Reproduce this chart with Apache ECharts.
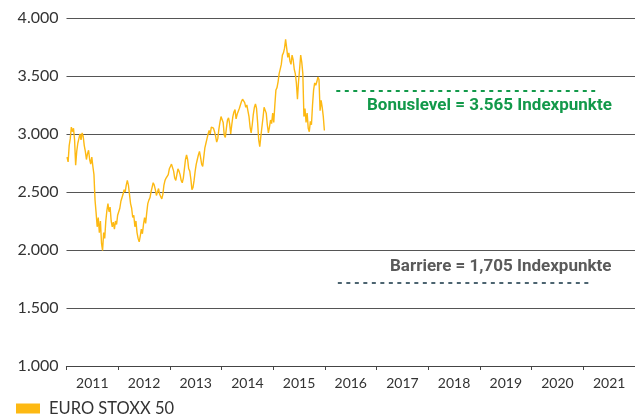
<!DOCTYPE html>
<html>
<head>
<meta charset="utf-8">
<script src="https://cdn.jsdelivr.net/npm/echarts@6/dist/echarts.min.js"></script>
<style>
  html, body { margin: 0; padding: 0; background: #fff; }
  #chart { width: 635px; height: 416px; }
</style>
</head>
<body>
<div id="chart"></div>
<script>
// tick labels on the x axis
const yearLabels = ['2011', '2012', '2013', '2014', '2015', '2016', '2017', '2018', '2019', '2020', '2021'];

// EURO STOXX 50, roughly weekly (4 readings per month)
const stoxx2011 = [
  2800, 2760, 2900, 2960, 3060, 3020, 3050, 2950, 2730, 2850, 2920, 2960,
  3000, 2950, 3010, 2980, 2900, 2850, 2780, 2830, 2860, 2780, 2740, 2800,
  2720, 2650, 2430, 2320, 2200, 2280, 2150, 2250, 2060, 1995, 2150, 2100,
  2250, 2340, 2400, 2330, 2370, 2250, 2200, 2240, 2180, 2250, 2220, 2300
];
const stoxx2012 = [
  2310, 2360, 2420, 2450, 2480, 2520, 2500, 2560, 2600, 2560, 2480, 2400,
  2360, 2280, 2300, 2200, 2250, 2150, 2100, 2070, 2120, 2180, 2140, 2220,
  2280, 2230, 2320, 2400, 2430, 2450, 2500, 2540, 2580, 2560, 2520, 2470,
  2500, 2530, 2480, 2460, 2440, 2480, 2560, 2600, 2620, 2610, 2650, 2700
];
const stoxx2013 = [
  2720, 2740, 2710, 2680, 2620, 2600, 2650, 2700, 2680, 2650, 2600, 2580,
  2620, 2700, 2780, 2820, 2780, 2700, 2680, 2610, 2520, 2540, 2600, 2680,
  2740, 2780, 2820, 2850, 2800, 2740, 2720, 2800, 2880, 2920, 2960, 3000,
  3030, 3000, 3060, 3070, 3050, 3020, 2980, 2930, 2960, 3040, 3100, 3150
];
const stoxx2014 = [
  3150, 3100, 2990, 2970, 3050, 3120, 3140, 3090, 3000, 3080, 3150, 3190,
  3210, 3130, 3170, 3180, 3220, 3250, 3280, 3300, 3310, 3270, 3230, 3250,
  3200, 3150, 3060, 3010, 3080, 3170, 3230, 3260, 3220, 3100, 2950, 2890,
  2980, 3060, 3140, 3230, 3220, 3180, 3080, 3010, 3060, 3120, 3090, 3180
];
const stoxx2015 = [
  3100, 3250, 3380, 3400, 3450, 3520, 3560, 3600, 3680, 3700, 3740, 3815,
  3740, 3660, 3700, 3630, 3600, 3680, 3640, 3560, 3520, 3440, 3300, 3450,
  3560, 3680, 3620, 3520, 3150, 3220, 3100, 3180, 3050, 3020, 3110, 3080,
  3250, 3380, 3440, 3420, 3450, 3490, 3470, 3200, 3290, 3230, 3150, 3030
];
const stoxxYears = [2011, 2012, 2013, 2014, 2015];
const stoxxValues = [stoxx2011, stoxx2012, stoxx2013, stoxx2014, stoxx2015];

// reference levels as drawn (from / to in years, level in index points)
const bonusLine = { from: 2016.22, to: 2021.23, level: 3370 };
const barrierLine = { from: 2016.25, to: 2021.11, level: 1715 };
const bonusText = 'Bonuslevel = 3.565 Indexpunkte';
const barrierText = 'Barriere = 1,705 Indexpunkte';

const stoxxData = [];
stoxxYears.forEach((yr, k) => {
  stoxxValues[k].forEach((v, i) => stoxxData.push([yr + (i + 0.5) / 48, v]));
});

const chart = echarts.init(document.getElementById('chart'));
chart.setOption({
  animation: false,
  backgroundColor: '#fff',
  textStyle: { fontFamily: 'Lato' },
  grid: { left: 66.5, right: -8.5, top: 18, bottom: 50 },
  legend: {
    data: ['EURO STOXX 50'],
    left: 11, top: 395,
    icon: 'rect', itemWidth: 24, itemHeight: 10, itemGap: 10,
    textStyle: { color: '#333', fontSize: 16.5, fontFamily: 'Lato', padding: [0, 0, 0, 4] }
  },
  xAxis: [
    {
      type: 'category',
      data: yearLabels,
      boundaryGap: true,
      axisLine: { lineStyle: { color: '#444', width: 1.2 } },
      axisTick: { show: true, length: 4, lineStyle: { color: '#444' } },
      axisLabel: { color: '#333', fontSize: 14, margin: 10, fontFamily: 'Lato' },
      splitLine: { show: false }
    },
    { type: 'value', min: 2011, max: 2022, show: false }
  ],
  yAxis: {
    type: 'value',
    min: 1000, max: 4000, interval: 500,
    axisLine: { show: false },
    axisTick: { show: false },
    axisLabel: {
      color: '#333', fontSize: 16, margin: 8, fontFamily: 'Lato',
      formatter: v => String(v).replace(/(\d)(\d{3})$/, '$1.$2')
    },
    splitLine: { lineStyle: { color: '#555', width: 1.2 } }
  },
  series: [
    {
      name: 'EURO STOXX 50',
      type: 'line',
      xAxisIndex: 1,
      data: stoxxData,
      showSymbol: false,
      color: '#FDB913',
      lineStyle: { color: '#FDB913', width: 1.4 }
    },
    {
      type: 'line', xAxisIndex: 1, silent: true, showSymbol: false,
      data: [[bonusLine.from, bonusLine.level], [bonusLine.to, bonusLine.level]],
      lineStyle: { color: '#12994A', width: 2, type: [4, 4.5] }
    },
    {
      type: 'line', xAxisIndex: 1, silent: true, showSymbol: false,
      data: [[barrierLine.from, barrierLine.level], [barrierLine.to, barrierLine.level]],
      lineStyle: { color: '#4C6470', width: 2, type: [4, 4.5] }
    }
  ],
  graphic: [
    {
      type: 'text', left: 367, top: 97,
      style: { text: bonusText, fill: '#12994A', font: 'bold 17px Roboto' }
    },
    {
      type: 'text', left: 390, top: 258,
      style: { text: barrierText, fill: '#5A5A5A', font: 'bold 17px Roboto' }
    }
  ]
});
</script>
</body>
</html>
